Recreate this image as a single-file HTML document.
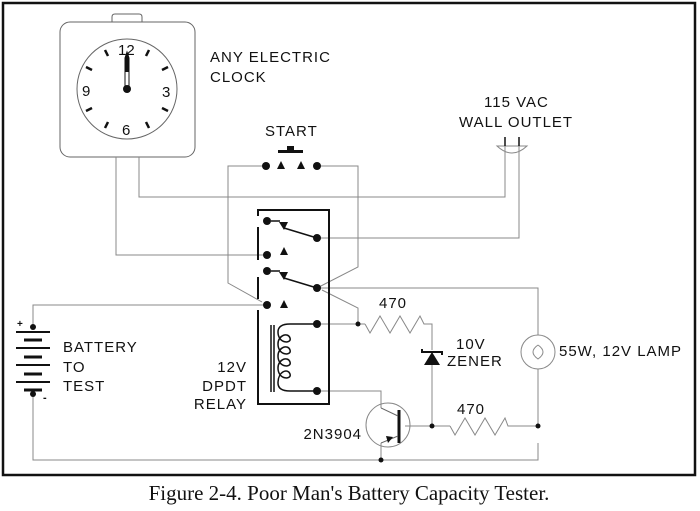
<!DOCTYPE html>
<html><head><style>
html,body{margin:0;padding:0;background:#fff;}
svg{display:block;}
text{font-family:"Liberation Sans",sans-serif;font-size:15px;fill:#111;letter-spacing:1px;}
</style></head><body>
<svg width="700" height="511" viewBox="0 0 700 511" xmlns="http://www.w3.org/2000/svg">
<rect x="3" y="3" width="692" height="472" fill="none" stroke="#111" stroke-width="2.5"/>
<!-- clock -->
<path d="M112,22 V17 Q112,14 115,14 H139 Q142,14 142,17 V22" fill="none" stroke="#666" stroke-width="1"/>
<rect x="60" y="22" width="135" height="135" rx="10" fill="none" stroke="#666" stroke-width="1"/>
<circle cx="127" cy="89" r="50" fill="none" stroke="#666" stroke-width="1"/>
<g stroke="#111" stroke-width="2.5">
<line x1="105" y1="50" x2="108" y2="56"/><line x1="149" y1="50" x2="146" y2="56"/>
<line x1="86" y1="67" x2="92" y2="70"/><line x1="168" y1="67" x2="162" y2="70"/>
<line x1="86" y1="111" x2="92" y2="108"/><line x1="168" y1="111" x2="162" y2="108"/>
<line x1="105" y1="128" x2="108" y2="122"/><line x1="149" y1="128" x2="146" y2="122"/>
</g>
<path d="M125,88 V58 L127,52 L129,58 V88" fill="#fff" stroke="#111" stroke-width="1"/>
<path d="M125,72 L125,58 L127,52 L129,58 L129,72 Z" fill="#111"/>
<circle cx="127" cy="89" r="4" fill="#111"/>
<text x="118" y="55" style="font-size:15px;letter-spacing:0">12</text>
<text x="82" y="96" style="font-size:15px">9</text><text x="162" y="97" style="font-size:15px">3</text><text x="122" y="135" style="font-size:15px">6</text>
<text x="210" y="62">ANY ELECTRIC</text>
<text x="210" y="82">CLOCK</text>
<!-- wires -->
<g fill="none" stroke="#888" stroke-width="1">
<polyline points="116,157 116,255 267,255"/>
<polyline points="139,157 139,197 505,197 505,146"/>
<polyline points="519,146 519,238 317,238"/>
<polyline points="266,166 228,166 228,283 262,302"/>
<polyline points="317,166 358,166 358,267 317,288"/>
<polyline points="33,327 33,305 267,305"/>
<polyline points="33,394 33,460 538,460 538,443"/>
<polyline points="317,288 538,288 538,335"/>
<line x1="538" y1="369" x2="538" y2="426"/>
<polyline points="322,290 358,308 358,324"/>
<line x1="317" y1="324" x2="365" y2="324"/>
<polyline points="365,324 370,333 380,316 390,333 400,316 410,333 420,316 424,324 432,324 432,350"/>
<line x1="432" y1="365" x2="432" y2="426"/>
<line x1="405" y1="426" x2="450" y2="426"/>
<polyline points="450,426 455,435 465,418 475,435 485,418 495,435 505,418 508,426 538,426"/>
<polyline points="317,391 381,391 381,408"/>
<line x1="381" y1="443" x2="381" y2="460"/>
<circle cx="388" cy="425" r="22"/>
<circle cx="538" cy="352" r="17"/>
<path d="M538,345 Q528,352 538,359 Q548,352 538,345"/>
<path d="M497,146 Q512,160 527,146 Z"/>
</g>
<g stroke="#111" stroke-width="1.5">
<line x1="505" y1="137" x2="505" y2="146"/><line x1="519" y1="137" x2="519" y2="146"/>
</g>
<text x="484" y="107">115 VAC</text>
<text x="459" y="127">WALL OUTLET</text>
<!-- start switch -->
<text x="265" y="136">START</text>
<rect x="278" y="150" width="25" height="3" fill="#111"/>
<rect x="287" y="146" width="7" height="5" fill="#111"/>
<g fill="#111">
<circle cx="266" cy="166" r="4"/><circle cx="317" cy="166" r="4"/>
<polygon points="277,169 285,169 281,161"/><polygon points="297,169 305,169 301,161"/>
</g>
<!-- relay -->
<path d="M258,216 V210 H329 V404 H258 V310 M258,299 V277 M258,260 V227" fill="none" stroke="#111" stroke-width="2"/>
<g fill="#111">
<circle cx="267" cy="221" r="4"/><circle cx="317" cy="238" r="4"/>
<circle cx="267" cy="255" r="4"/><circle cx="267" cy="271" r="4"/>
<circle cx="317" cy="288" r="4"/><circle cx="267" cy="305" r="4"/>
<circle cx="317" cy="324" r="4"/><circle cx="317" cy="391" r="4"/>
<circle cx="358" cy="324" r="2.5"/><circle cx="432" cy="426" r="2.5"/>
<circle cx="538" cy="426" r="2.5"/><circle cx="381" cy="460" r="2.5"/>
<polygon points="279,222 288,222 284,230"/><polygon points="280,255 288,255 284,247"/>
<polygon points="279,272 288,272 284,280"/><polygon points="280,308 288,308 284,300"/>
</g>
<g stroke="#111" stroke-width="1.5" fill="none">
<line x1="271" y1="221" x2="280" y2="221"/><line x1="284" y1="228" x2="317" y2="238"/>
<line x1="271" y1="271" x2="280" y2="271"/><line x1="284" y1="278" x2="317" y2="288"/>
<line x1="271" y1="325" x2="271" y2="392"/><line x1="274" y1="325" x2="274" y2="392"/>
<path d="M317,324 H290 Q278,324 278,332 M317,391 H290 Q278,391 278,383"/>
<path d="M278,332 C278,344 292,344 290,338 C288,332 278,335 278,344 C278,356 292,356 290,350 C288,344 278,347 278,356 C278,368 292,368 290,362 C288,356 278,359 278,368 C278,380 292,380 290,374 C288,368 278,371 278,383"/>
</g>
<!-- zener -->
<polygon points="424,365 440,365 432,352" fill="#111"/>
<path d="M422,349 V352 H442 V355" fill="none" stroke="#111" stroke-width="2"/>
<!-- transistor -->
<line x1="399" y1="410" x2="399" y2="443" stroke="#111" stroke-width="3"/>
<g stroke="#666" stroke-width="1"><line x1="381" y1="408" x2="398" y2="416"/><line x1="398" y1="436" x2="381" y2="443"/></g>
<polygon points="386,436 393,437 388,443" fill="#111"/>
<!-- battery -->
<g stroke="#111">
<line x1="16" y1="332" x2="50" y2="332" stroke-width="2"/><line x1="24" y1="340" x2="42" y2="340" stroke-width="3"/>
<line x1="16" y1="348" x2="50" y2="348" stroke-width="2"/><line x1="24" y1="357" x2="42" y2="357" stroke-width="3"/>
<line x1="16" y1="365" x2="50" y2="365" stroke-width="2"/><line x1="24" y1="374" x2="42" y2="374" stroke-width="3"/>
<line x1="16" y1="382" x2="50" y2="382" stroke-width="2"/><line x1="24" y1="390" x2="42" y2="390" stroke-width="3"/>
</g>
<circle cx="33" cy="327" r="3" fill="#111"/><circle cx="33" cy="394" r="3" fill="#111"/>
<text x="17" y="327" style="font-size:10px;font-weight:bold">+</text>
<text x="43" y="401" style="font-size:11px;font-weight:bold">-</text>
<text x="63" y="352">BATTERY</text>
<text x="63" y="372">TO</text>
<text x="63" y="391">TEST</text>
<text x="247" y="372" text-anchor="end">12V</text>
<text x="247" y="391" text-anchor="end">DPDT</text>
<text x="247" y="409" text-anchor="end">RELAY</text>
<text x="379" y="308">470</text>
<text x="456" y="349">10V</text>
<text x="447" y="366">ZENER</text>
<text x="457" y="414">470</text>
<text x="362" y="439" text-anchor="end">2N3904</text>
<text x="559" y="356">55W, 12V LAMP</text>
<text x="349" y="500" text-anchor="middle" style="font-family:'Liberation Serif',serif;font-size:21px;letter-spacing:0">Figure 2-4. Poor Man's Battery Capacity Tester.</text>
</svg>
</body></html>
